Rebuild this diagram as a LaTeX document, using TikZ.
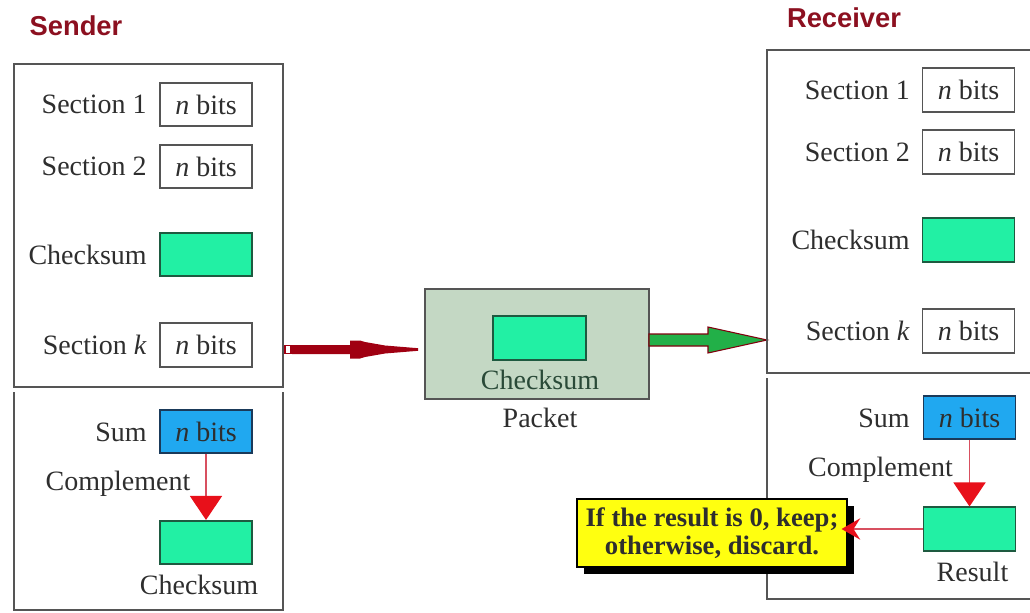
\documentclass[tikz,border=0pt]{standalone}
\usepackage{fontspec}
\setmainfont{Liberation Serif}
\newfontfamily\headfont{Liberation Sans}
\usetikzlibrary{arrows.meta,shadows}

\definecolor{ink}{HTML}{2E2E2E}
\definecolor{frame}{HTML}{555555}
\definecolor{mint}{HTML}{22F0A4}
\definecolor{mintedge}{HTML}{1E5A40}
\definecolor{sky}{HTML}{20A8F0}
\definecolor{skyedge}{HTML}{1A3A5A}
\definecolor{packetfill}{HTML}{C4D8C4}
\definecolor{packetink}{HTML}{2A4A38}
\definecolor{maroon}{HTML}{8C1020}
\definecolor{arrowred}{HTML}{E8101A}
\definecolor{linkred}{HTML}{D85060}
\definecolor{sendred}{HTML}{A00012}
\definecolor{fwdgreen}{HTML}{22B048}
\definecolor{note}{HTML}{FFFF10}

\begin{document}
\begin{tikzpicture}[x=0.75pt,y=-0.75pt,
  txt/.style={font=\fontsize{21}{24}\selectfont, text=ink, inner sep=0pt},
  lbl/.style={txt, anchor=east},
  bitbox/.style={draw=frame, line width=1.3pt, fill=white, minimum width=69pt,
    minimum height=32.5pt, inner sep=0pt, font=\fontsize{21}{24}\selectfont, text=ink},
  sumbox/.style={bitbox, fill=sky, draw=skyedge},
  csbox/.style={bitbox, fill=mint, draw=mintedge},
  frm/.style={draw=frame, line width=1.5pt},
  head/.style={font=\headfont\bfseries\fontsize{20.5}{24}\selectfont, text=maroon, inner sep=0pt},
  down/.style={draw=linkred, line width=1.2pt,
    -{Triangle[length=18pt,width=24pt,color=arrowred]}},
]
\useasboundingbox (0,0) rectangle (1030,613);
\clip (0,0) rectangle (1030,613);

% ---------- Sender ----------
\node[head] (sender) at (76,26) {Sender};
\draw[frm] (14,64) rectangle (283,387);
\draw[frm] (14,392) -- (14,610) -- (283,610) -- (283,392);

\node[bitbox] (s1) at (206,104.5) {\textit{n} bits};
\node[bitbox] (s2) at (206,166.5) {\textit{n} bits};
\node[csbox]  (sc) at (206,254.5) {};
\node[bitbox] (sk) at (206,345) {\textit{n} bits};
\node[lbl] (s1l) at (147,104.5) {Section 1};
\node[lbl] (s2l) at (147,166.5) {Section 2};
\node[lbl] (scl) at (147,254.5) {Checksum};
\node[lbl] (skl) at (147,345) {Section \textit{k}};

\node[sumbox] (ssum) at (206,431.5) {\textit{n} bits};
\node[lbl] (ssuml) at (147,432) {Sum};
\node[csbox] (sout) at (206,542.5) {};
\node[txt] (scomp) at (118,484) {Complement};
\node[txt] (soutl) at (199,585) {Checksum};
\draw[down] (ssum.south) -- (sout.north);

% ---------- Packet ----------
\node[draw=frame, line width=1.5pt, fill=packetfill, minimum width=168pt,
  minimum height=82.5pt] (packet) at (537,344) {};
\node[csbox, minimum width=69.75pt, minimum height=33pt] (pcs) at (539.5,338) {};
\node[txt, text=packetink] (pcsl) at (540,380) {Checksum};
\node[txt] (pl) at (540,418) {Packet};

% sender -> packet
\coordinate (sa) at (285,349.5);
\filldraw[draw=sendred, fill=white, line width=0.8pt] (sa) +(0,-4) rectangle +(6,4);
\fill[sendred] (sa) +(7,-4.5) -- +(65,-4.5) -- +(65,-9) -- +(75,-9) -- +(80,-7.5)
  -- +(100,-4) -- +(133,-1.3) -- +(133,1.3) -- +(100,4) -- +(80,7.5) -- +(75,9)
  -- +(65,9) -- +(65,4.5) -- +(7,4.5) -- cycle;

% packet -> receiver
\coordinate (ga) at (649,340);
\filldraw[fill=fwdgreen, draw=sendred!80!black, line width=0.8pt, line join=miter]
  (ga) +(0,-6) -- +(59,-6) -- +(59,-13) -- +(118,0) -- +(59,13) -- +(59,6)
  -- +(0,6) -- cycle;

% ---------- Receiver ----------
\node[head] (receiver) at (844,18) {Receiver};
\draw[frm] (767,50) rectangle (1045,373);
\draw[frm] (767,378) -- (767,599) -- (1045,599);

\node[bitbox] (r1) at (968.5,90) {\textit{n} bits};
\node[bitbox] (r2) at (968.5,152) {\textit{n} bits};
\node[csbox]  (rc) at (968.5,240) {};
\node[bitbox] (rk) at (968.5,331) {\textit{n} bits};
\node[lbl] (r1l) at (910,90) {Section 1};
\node[lbl] (r2l) at (910,152) {Section 2};
\node[lbl] (rcl) at (910,240) {Checksum};
\node[lbl] (rkl) at (910,331) {Section \textit{k}};

\node[sumbox] (rsum) at (969.5,417.5) {\textit{n} bits};
\node[lbl] (rsuml) at (910,418) {Sum};
\node[csbox] (res) at (969.5,529) {};
\node[txt] (rcomp) at (880.5,470) {Complement};
\node[txt] (resl) at (972.5,572) {Result};
\draw[down] (rsum.south) -- (res.north);

% decision note
\node[draw=black, line width=0.8pt, fill=note, minimum width=202.5pt, minimum height=51pt,
  align=center, inner sep=0pt, text=ink,
  font=\bfseries\fontsize{20}{21}\selectfont,
  drop shadow={fill=black, opacity=1, shadow xshift=5.25pt, shadow yshift=-5.25pt}]
  (note) at (712,533) {If the result is 0, keep;\\otherwise, discard.};
\draw[draw=linkred, line width=1.5pt, shorten >=-4.5pt,
  -{Stealth[length=14pt,width=16pt,inset=5pt,color=arrowred]}]
  (res.west) -- (res.west -| note.east);
\end{tikzpicture}
\end{document}
